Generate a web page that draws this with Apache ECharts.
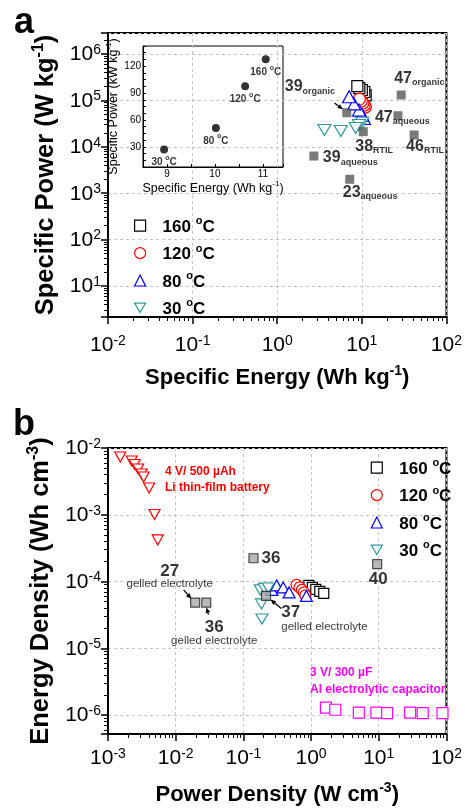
<!DOCTYPE html>
<html>
<head>
<meta charset="utf-8">
<title>Ragone plots</title>
<script src="https://cdn.jsdelivr.net/npm/echarts@6.0.0/dist/echarts.min.js"></script>
<style>
html, body { margin: 0; padding: 0; background: #fff; }
#main { width: 465px; height: 809px; }
</style>
</head>
<body>
<div id="main"></div>
<script>
var FONT = '"Liberation Sans", Arial, Helvetica, sans-serif';

// ---- panel a : specific energy (Wh/kg) vs specific power (W/kg)
var temps = ['160', '120', '80', '30'];
var a160 = [[11.1, 128000], [10.7, 152000], [10.0, 168000], [9.35, 185000], [8.85, 204000]];
var a120 = [[11.0, 72000], [10.7, 79500], [10.3, 88000], [9.87, 97000], [9.35, 107000]];
var a80 = [[10.6, 40700], [10.1, 48400], [9.27, 62000], [8.1, 84000], [7.08, 120000]];
var a30 = [[10.1, 33000], [9.27, 29500], [8.46, 25400], [5.65, 21900], [3.61, 23000]];
// literature values
var aRef = [[6.64, 54300], [29.2, 131000], [26.7, 46800], [10.4, 21200], [41.5, 18000], [2.71, 6330], [7.2, 2000]];
var aRefNum = ['39', '47', '47', '38', '46', '39', '23'];
var aRefSub = ['organic', 'organic', 'aqueous', 'RTIL', 'RTIL', 'aqueous', 'aqueous'];
// inset (kW/kg, linear)
var insetEnergy = [8.94, 10.02, 10.63, 11.06];
var insetPower = [27, 51, 97.7, 127.7];
var insetTemp = ['30', '80', '120', '160'];

// ---- panel b : power density (W/cm3) vs energy density (Wh/cm3)
var b160 = [[0.929, 8.74e-5], [1.045, 8.16e-5], [1.175, 7.62e-5], [1.345, 7.11e-5], [1.54, 6.64e-5]];
var b120 = [[0.61, 8.9e-5], [0.675, 8.16e-5], [0.733, 7.49e-5], [0.785, 6.87e-5], [0.826, 6.19e-5]];
var b80 = [[0.263, 7.49e-5], [0.311, 8.74e-5], [0.387, 8.16e-5], [0.474, 6.87e-5], [0.854, 6.08e-5]];
var b30 = [[0.178, 7.49e-5], [0.204, 7.89e-5], [0.233, 8.0e-5], [0.185, 4.62e-5], [0.188, 2.75e-5]];
var bLi = [[1.52e-3, 7.33e-3], [2.24e-3, 6.39e-3], [2.48e-3, 5.66e-3], [2.79e-3, 4.85e-3], [3.14e-3, 4.08e-3],
           [3.36e-3, 3.68e-3], [4.05e-3, 2.52e-3], [4.87e-3, 1.01e-3], [5.43e-3, 4.2e-4]];
var bAl = [[1.66, 1.29e-6], [2.28, 1.2e-6], [5.08, 1.09e-6], [9.23, 1.09e-6], [13.3, 1.07e-6],
           [29.1, 1.09e-6], [44.6, 1.07e-6], [87.5, 1.07e-6]];
var bRef = [[0.141, 2.23e-4], [9.48, 1.82e-4], [0.0194, 4.83e-5], [0.0283, 4.83e-5], [0.216, 6.08e-5]];
var bRefNum = ['36', '40', '27', '36', '37'];
var bRefNote = ['', '', 'gelled electrolyte', 'gelled electrolyte', 'gelled electrolyte'];

// label placement (pixels, relative to the marker)
var aRefOff = [[-62, -34], [-7, -24.5], [-23, -6.5], [-8, 6.5], [-8, 3.5], [9, -6.5], [-7, 5]];
var bRefPlace = [
  { align: 'left', va: 'middle', off: [8, 0], gap: 0 },
  { align: 'center', va: 'middle', off: [1, 14.7], gap: 0 },
  { align: 'center', va: 'top', off: [-25.5, -38.5], gap: 0 },
  { align: 'center', va: 'top', off: [8, 16.7], gap: 3 },
  { align: 'left', va: 'top', off: [15.3, 9.2], gap: 4 }
];

var RED = '#ff0000', BLUE = '#0000ff', TEAL = '#339a9a', MAG = '#ff00ff';
var DOWN_TRI = 'path://M0,0L12,0L6,10.4Z';

function degC(t) { return '{t|' + t + ' }{o|o}{t|C}'; }
function degRich(size, bold) {
  return {
    t: { fontFamily: FONT, fontSize: size, fontWeight: bold ? 'bold' : 'normal', color: '#000', lineHeight: size + 3, verticalAlign: 'bottom' },
    o: { fontFamily: FONT, fontSize: Math.round(size * 0.65), fontWeight: bold ? 'bold' : 'normal', color: '#000', lineHeight: Math.round(size * 0.65), verticalAlign: 'top' }
  };
}
function powLabel(v) {
  var e = Math.log10(v), r = Math.round(e);
  if (Math.abs(e - r) > 1e-6) return '';
  return '{b|10}{s|' + r + '}';
}
var powRich = {
  b: { fontFamily: FONT, fontSize: 21, color: '#000', lineHeight: 22, padding: [6, 0, 0, 0], verticalAlign: 'bottom' },
  s: { fontFamily: FONT, fontSize: 14, color: '#000', lineHeight: 14, verticalAlign: 'top' }
};
function supName(main, sup, tail) { return '{t|' + main + '}{s|' + sup + '}{t|' + tail + '}'; }
function nameRich(size, bold) {
  var w = bold ? 'bold' : 'normal';
  return {
    t: { fontFamily: FONT, fontSize: size, fontWeight: w, color: '#000', lineHeight: size + 3, verticalAlign: 'bottom' },
    s: { fontFamily: FONT, fontSize: Math.round(size * 0.62), fontWeight: w, color: '#000', lineHeight: Math.round(size * 0.62), verticalAlign: 'top' }
  };
}

function logAxis(grid, min, max, name, nameSize, gap, margin) {
  return {
    gridIndex: grid, type: 'log', logBase: 10, min: min, max: max,
    name: name, nameLocation: 'middle', nameGap: gap,
    nameTextStyle: { rich: nameRich(nameSize, true) },
    axisLine: { show: true, lineStyle: { color: '#000', width: 2 } },
    axisTick: { show: true, length: 7, lineStyle: { color: '#000', width: 1.5 } },
    minorTick: { show: true, splitNumber: 9, length: 4, lineStyle: { color: '#000', width: 1 } },
    splitLine: { show: true, lineStyle: { color: '#c4c4c4', width: 1, type: [3, 3] } },
    axisLabel: { formatter: powLabel, rich: powRich, margin: margin, showMinLabel: true, showMaxLabel: true, hideOverlap: false }
  };
}

function openSeries(name, data, symbol, size, color, rotate, xi, yi) {
  return {
    type: 'scatter', name: name, data: data, symbol: symbol, symbolSize: size, symbolRotate: rotate || 0,
    xAxisIndex: xi, yAxisIndex: yi, clip: false,
    itemStyle: { color: '#fff', borderColor: color, borderWidth: 1.2, opacity: 1 }
  };
}

var names = temps.map(function (t) { return t + ' °C'; });

var aRefData = aRef.map(function (p, i) {
  return {
    value: p,
    label: {
      show: true, position: 'inside', align: 'left', verticalAlign: 'top', offset: aRefOff[i],
      formatter: '{n|' + aRefNum[i] + '}{s|' + aRefSub[i] + '}'
    }
  };
});
var bRefData = bRef.map(function (p, i) {
  var pl = bRefPlace[i];
  var txt = '{n|' + bRefNum[i] + '}' + (bRefNote[i] ? '\n{g|' + bRefNote[i] + '}' : '');
  return {
    value: p,
    label: {
      show: true, position: 'inside', align: pl.align, verticalAlign: pl.va, offset: pl.off, formatter: txt,
      rich: {
        n: { fontFamily: FONT, fontSize: 17, fontWeight: 'bold', color: '#000', lineHeight: 15 },
        g: { fontFamily: FONT, fontSize: 11.5, color: '#000', lineHeight: 10, padding: [pl.gap, 0, 0, 0] }
      }
    }
  };
});
var insetData = insetEnergy.map(function (e, i) {
  return { value: [e, insetPower[i]], label: { formatter: degC(insetTemp[i]) } };
});

function legendAt(left, top) {
  return {
    orient: 'vertical', left: left, top: top, itemWidth: 11, itemHeight: 11, itemGap: 7.4,
    data: names.map(function (n, i) { return i === 3 ? { name: n, icon: DOWN_TRI } : { name: n }; }),
    itemStyle: { borderWidth: 1.2 },
    formatter: function (n) { return degC(n.split(' ')[0]); },
    textStyle: { padding: [0, 0, 0, 12], rich: degRich(17, true) },
    selectedMode: false
  };
}

var option = {
  animation: false,
  backgroundColor: '#fff',
  textStyle: { fontFamily: FONT },
  grid: [
    { left: 108, top: 33, width: 342, height: 284, show: true, borderColor: '#000', borderWidth: 2, containLabel: false },
    { left: 143, top: 46, width: 140, height: 121, show: true, borderColor: '#000', borderWidth: 1, containLabel: false },
    { left: 108, top: 448, width: 342, height: 286, show: true, borderColor: '#000', borderWidth: 2, containLabel: false }
  ],
  xAxis: [
    logAxis(0, 0.01, 100, supName('Specific Energy (Wh kg', '-1', ')'), 22, 47, 17),
    {
      gridIndex: 1, type: 'value', min: 8.5, max: 11.42, interval: 0.5,
      name: supName('Specific Energy (Wh kg', '-1', ')'), nameLocation: 'middle', nameGap: 13,
      nameTextStyle: { rich: nameRich(12.5, false) },
      axisLine: { lineStyle: { color: '#000', width: 1 } },
      axisTick: { inside: true, length: 3, lineStyle: { color: '#000' } },
      splitLine: { show: false },
      axisLabel: { margin: 2, fontSize: 10, color: '#000', fontFamily: FONT, formatter: function (v) { return v % 1 === 0 ? String(v) : ''; } }
    },
    logAxis(2, 0.001, 100, supName('Power Density (W cm', '-3', ')'), 22, 47, 13)
  ],
  yAxis: [
    logAxis(0, 2.15, 2.84e6, supName('Specific Power (W kg', '-1', ')'), 25.5, 42, 7),
    {
      gridIndex: 1, type: 'value', min: 7.5, max: 142.5, interval: 7.5,
      name: supName('Specific Power (kW kg', '-1', ')'), nameLocation: 'middle', nameGap: 18,
      nameTextStyle: { rich: nameRich(12.5, false) },
      axisLine: { lineStyle: { color: '#000', width: 1 } },
      axisTick: { inside: true, length: 3, lineStyle: { color: '#000' } },
      splitLine: { show: false },
      axisLabel: { margin: 2, fontSize: 10, color: '#000', fontFamily: FONT, formatter: function (v) { return (v > 0 && v % 30 === 0) ? String(v) : ''; } }
    },
    logAxis(2, 5.2e-7, 0.01, supName('Energy Density (Wh cm', '-3', ')'), 25.5, 42, 7)
  ],
  legend: [legendAt(129, 210.7), legendAt(365.7, 452.7)],
  series: [
    // panel a
    openSeries(names[0], a160, 'rect', 11, '#000', 0, 0, 0),
    openSeries(names[1], a120, 'circle', 12, RED, 0, 0, 0),
    openSeries(names[2], a80, 'triangle', [13, 12], BLUE, 0, 0, 0),
    openSeries(names[3], a30, 'triangle', [13, 11], TEAL, 180, 0, 0),
    {
      type: 'scatter', name: 'literature a', data: aRefData, symbol: 'rect', symbolSize: 9,
      xAxisIndex: 0, yAxisIndex: 0, clip: false, itemStyle: { color: '#595959' },
      label: {
        rich: {
          n: { fontFamily: FONT, fontSize: 16, fontWeight: 'bold', color: '#000', lineHeight: 17, verticalAlign: 'top' },
          s: { fontFamily: FONT, fontSize: 9, fontWeight: 'bold', color: '#000', lineHeight: 10, padding: [12, 0, 0, 0], verticalAlign: 'bottom' }
        }
      }
    },
    {
      type: 'scatter', name: 'inset', data: insetData, symbol: 'circle', symbolSize: 8,
      xAxisIndex: 1, yAxisIndex: 1, itemStyle: { color: '#000' },
      label: { show: true, position: 'bottom', distance: 1, rich: degRich(10, true) }
    },
    // panel b
    openSeries('Li thin-film battery', bLi, 'triangle', [11, 10], RED, 180, 2, 2),
    openSeries('Al electrolytic capacitor', bAl, 'rect', 11, MAG, 0, 2, 2),
    openSeries(names[0], b160, 'rect', 10, '#000', 0, 2, 2),
    openSeries(names[1], b120, 'circle', 11, RED, 0, 2, 2),
    openSeries(names[2], b80, 'triangle', [12, 11], BLUE, 0, 2, 2),
    openSeries(names[3], b30, 'triangle', [12, 10], TEAL, 180, 2, 2),
    {
      type: 'scatter', name: 'literature b', data: bRefData, symbol: 'rect', symbolSize: 9,
      xAxisIndex: 2, yAxisIndex: 2, clip: false,
      itemStyle: { color: '#a8a8a8', borderColor: '#222', borderWidth: 1.2 }
    }
  ]
};

var chart = echarts.init(document.getElementById('main'));
chart.setOption(option);

// annotations: panel letters, device captions, arrows
function txt(s, x, y, font, color, align) {
  return {
    type: 'text', z: 20,
    style: { text: s, x: x, y: y, font: font, fill: color, align: align || 'left', verticalAlign: 'middle',
             textAlign: align || 'left', textVerticalAlign: 'middle' }
  };
}
function arrow(p, from, to) {
  var x1 = p[0] + from[0], y1 = p[1] + from[1], x2 = p[0] + to[0], y2 = p[1] + to[1];
  var ang = Math.atan2(y2 - y1, x2 - x1), L = 5.5, W = 2.4;
  var bx = x2 - L * Math.cos(ang), by = y2 - L * Math.sin(ang);
  return [
    { type: 'line', z: 20, shape: { x1: x1, y1: y1, x2: bx, y2: by }, style: { stroke: '#000', lineWidth: 1.3 } },
    { type: 'polygon', z: 20, shape: { points: [[x2, y2], [bx - W * Math.sin(ang), by + W * Math.cos(ang)], [bx + W * Math.sin(ang), by - W * Math.cos(ang)]] },
      style: { fill: '#000' } }
  ];
}
var pa = function (v) { return chart.convertToPixel({ gridIndex: 0 }, v); };
var pb = function (v) { return chart.convertToPixel({ gridIndex: 2 }, v); };

var bold12 = 'bold 12px ' + FONT;
var graphics = [
  txt('a', 24, 23, 'bold 36px ' + FONT, '#000', 'center'),
  txt('b', 24, 425, 'bold 36px ' + FONT, '#000', 'center'),
  txt('4 V/ 500 µAh', 165, 472, bold12, RED),
  txt('Li thin-film battery', 165, 488, bold12, RED),
  txt('3 V/ 300 µF', 310, 673, bold12, MAG),
  txt('Al electrolytic capacitor', 310, 690, bold12, MAG)
];
graphics = graphics
  .concat(arrow(pa(aRef[0]), [-12.3, -9.7], [-3.8, -3.4]))
  .concat(arrow(pb(bRef[2]), [-11.5, -12.7], [-3.8, -3.9]))
  .concat(arrow(pb(bRef[3]), [2.2, 12], [0.2, 4.8]))
  .concat(arrow(pb(bRef[4]), [15.3, 12.5], [4.5, 3.6]));

chart.setOption({ graphic: graphics });
</script>
</body>
</html>
